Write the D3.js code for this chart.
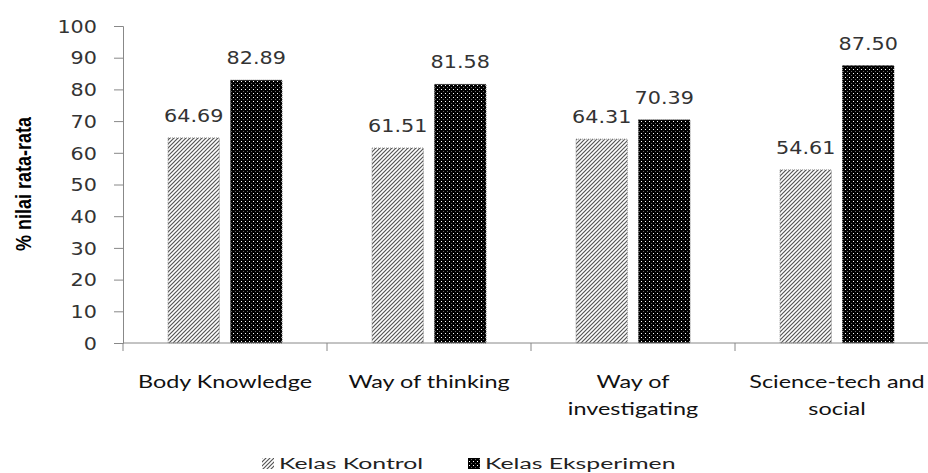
<!DOCTYPE html>
<html>
<head>
<meta charset="utf-8">
<script src="https://cdn.jsdelivr.net/npm/d3@7"></script>
<style>
  html, body { margin: 0; padding: 0; background: #fff; }
  svg { display: block; }
</style>
</head>
<body>
<svg id="chart" width="928" height="473"></svg>
<script>
// ---- data ----
const categories = ["Body Knowledge", "Way of thinking", "Way of investigating", "Science-tech and social"];
const categoryLines = [["Body Knowledge"], ["Way of thinking"], ["Way of", "investigating"], ["Science-tech and", "social"]];
const seriesNames = ["Kelas Kontrol", "Kelas Eksperimen"];
const kontrol = [64.69, 61.51, 64.31, 54.61];
const eksperimen = [82.89, 81.58, 70.39, 87.50];
const yTicks = [0, 10, 20, 30, 40, 50, 60, 70, 80, 90, 100];
const yTitle = "% nilai rata-rata";

// ---- layout ----
const svg = d3.select("#chart");
const plotLeft = 123, plotBottom = 343, plotTop = 26, plotRight = 939;
const sx = 1.22; // horizontal stretch of the reference image

const x = d3.scaleBand().domain(categories).range([plotLeft, plotRight]).paddingInner(0).paddingOuter(0);
const xs = d3.scaleBand().domain(seriesNames).range([0, x.bandwidth()]).paddingInner(0.18).paddingOuter(0.72);
const y = d3.scaleLinear().domain([0, 100]).range([plotBottom, plotTop]);

// ---- patterns ----
const defs = svg.append("defs");
const hatch = defs.append("pattern").attr("id", "hatch").attr("patternUnits", "userSpaceOnUse")
  .attr("width", 4).attr("height", 4);
hatch.append("rect").attr("width", 4).attr("height", 4).attr("fill", "#fff");
hatch.append("path").attr("d", "M-1,1 L1,-1 M0,4 L4,0 M3,5 L5,3")
  .attr("stroke", "#555").attr("stroke-width", 1.2);

const dots = defs.append("pattern").attr("id", "dots").attr("patternUnits", "userSpaceOnUse")
  .attr("width", 4).attr("height", 4);
dots.append("rect").attr("width", 4).attr("height", 4).attr("fill", "#000");
dots.append("rect").attr("x", 1).attr("y", 1).attr("width", 1).attr("height", 1).attr("fill", "#fff");
dots.append("rect").attr("x", 3).attr("y", 3).attr("width", 1).attr("height", 1).attr("fill", "#666");

const fills = ["url(#hatch)", "url(#dots)"];

// ---- bars ----
const rows = categories.map((c, i) => ({ c, vals: [kontrol[i], eksperimen[i]] }));
const g = svg.append("g");
rows.forEach(r => {
  r.vals.forEach((v, j) => {
    const bx = x(r.c) + xs(seriesNames[j]);
    g.append("rect")
      .attr("x", bx).attr("y", y(v))
      .attr("width", xs.bandwidth()).attr("height", y(0) - y(v))
      .attr("fill", fills[j])
      .attr("stroke", j === 0 ? "#777" : "#000")
      .attr("stroke-width", 0.8)
      .attr("stroke-dasharray", "1,1");
    g.append("text")
      .attr("transform", `translate(${bx + xs.bandwidth() / 2},${y(v) - 16}) scale(${sx},1)`)
      .attr("text-anchor", "middle")
      .attr("font-family", "DejaVu Sans")
      .attr("font-size", 17)
      .attr("fill", "#333")
      .text(v.toFixed(2));
  });
});

// ---- y axis ----
const yAxis = svg.append("g").attr("transform", `translate(${plotLeft},0)`)
  .call(d3.axisLeft(y).tickValues(yTicks).tickSize(9).tickPadding(0).tickFormat(d3.format("d")));
yAxis.select(".domain").attr("stroke", "#888");
yAxis.selectAll(".tick line").attr("stroke", "#888");
yAxis.selectAll(".tick text")
  .attr("x", null).attr("dy", null)
  .attr("text-anchor", "end")
  .attr("dominant-baseline", "central")
  .attr("transform", `translate(-26,0) scale(${sx},1)`)
  .attr("font-family", "DejaVu Sans").attr("font-size", 17).attr("fill", "#333");

// ---- x axis ----
const xAxisG = svg.append("g").attr("transform", `translate(0,${plotBottom})`);
xAxisG.append("line").attr("x1", plotLeft).attr("x2", plotRight).attr("stroke", "#888");
xAxisG.selectAll("line.tk").data(categories).enter().append("line").attr("class", "tk")
  .attr("x1", d => x(d)).attr("x2", d => x(d)).attr("y1", 0).attr("y2", 8).attr("stroke", "#888");

categoryLines.forEach((lines, i) => {
  const cx = x(categories[i]) + x.bandwidth() / 2;
  lines.forEach((ln, k) => {
    svg.append("text")
      .attr("transform", `translate(${cx},${388 + k * 27}) scale(1.3,1)`)
      .attr("text-anchor", "middle")
      .attr("font-family", "Lato").attr("font-size", 18).attr("fill", "#111")
      .text(ln);
  });
});

// ---- y title ----
svg.append("text")
  .attr("transform", `translate(31,184) scale(1.2,1) rotate(-90)`)
  .attr("text-anchor", "middle")
  .attr("font-family", "Liberation Sans").attr("font-weight", "bold").attr("font-size", 18)
  .attr("fill", "#000")
  .text(yTitle);

// ---- legend ----
const legendX = [262, 468];
seriesNames.forEach((n, j) => {
  svg.append("rect").attr("x", legendX[j]).attr("y", 458).attr("width", 12).attr("height", 11)
    .attr("fill", fills[j]);
  svg.append("text")
    .attr("transform", `translate(${legendX[j] + 17},469) scale(1.6,1)`)
    .attr("font-family", "Lato").attr("font-size", 15.5).attr("fill", "#222")
    .text(n);
});
</script>
</body>
</html>
